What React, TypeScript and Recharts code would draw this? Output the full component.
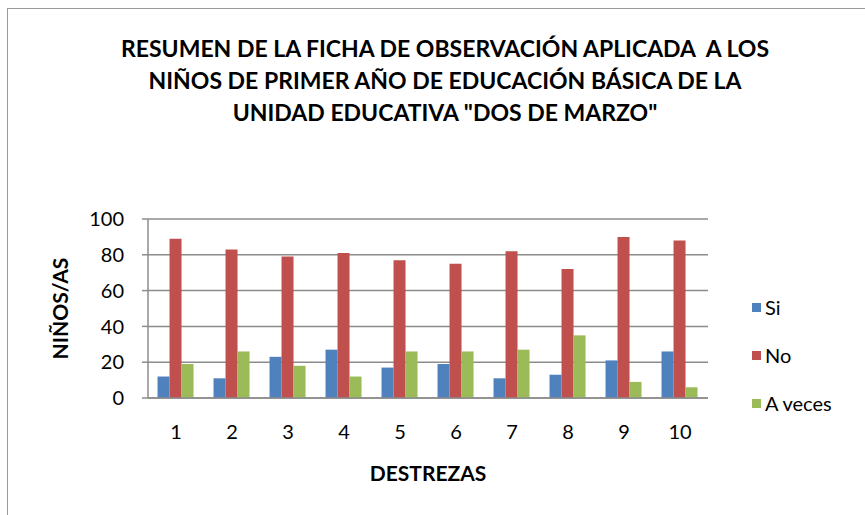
import React from "react";
import { BarChart, Bar, XAxis, YAxis, CartesianGrid } from "recharts";

const categories = ["1", "2", "3", "4", "5", "6", "7", "8", "9", "10"];
const si = [12, 11, 23, 27, 17, 19, 11, 13, 21, 26];
const no = [89, 83, 79, 81, 77, 75, 82, 72, 90, 88];
const aveces = [19, 26, 18, 12, 26, 26, 27, 35, 9, 6];
const yTicks = [0, 20, 40, 60, 80, 100];
const titleLines = [
  "RESUMEN DE LA FICHA DE OBSERVACIÓN APLICADA  A LOS",
  "NIÑOS DE PRIMER AÑO DE EDUCACIÓN BÁSICA DE LA",
  "UNIDAD EDUCATIVA \"DOS DE MARZO\"",
];
const seriesDefs = [
  { key: "si", name: "Si", color: "#4F81BD" },
  { key: "no", name: "No", color: "#C0504D" },
  { key: "aveces", name: "A veces", color: "#9BBB59" },
];

const data = categories.map((c, i) => ({ cat: c, si: si[i], no: no[i], aveces: aveces[i] }));

const FONT = "Lato, 'Open Sans', sans-serif";

export default function App() {
  return (
    <div style={{ position: "absolute", left: 0, top: 0, width: 865, height: 515, background: "#fff", overflow: "hidden" }}>
      <div style={{ position: "absolute", left: 7, top: 8, width: 900, height: 600, borderLeft: "1.5px solid #9a9a9a", borderTop: "1.5px solid #9a9a9a" }} />
      <div style={{ position: "absolute", left: 0, top: 32, width: 890, textAlign: "center", fontFamily: FONT, fontWeight: 700, fontSize: 23, lineHeight: "32px", color: "#000" }}>
        {titleLines.map((t, i) => (
          <div key={i} style={{ whiteSpace: "pre" }}>{t}</div>
        ))}
      </div>
      <div style={{ position: "absolute", left: 752, top: 283, fontFamily: FONT, fontSize: 20, color: "#000" }}>
        {seriesDefs.map((s) => (
          <div key={s.key} style={{ display: "flex", alignItems: "center", height: 48 }}>
            <span style={{ display: "inline-block", width: 9, height: 9, background: s.color, marginRight: 4 }} />
            <span>{s.name}</span>
          </div>
        ))}
      </div>
      <BarChart
        width={865}
        height={515}
        data={data}
        margin={{ top: 219, right: 157, bottom: 57, left: 0 }}
        barCategoryGap="17%"
        barGap={0}
        style={{ position: "absolute", left: 0, top: 0 }}
      >
        <CartesianGrid vertical={false} stroke="#8c8c8c" strokeWidth={1.5} />
        <XAxis
          dataKey="cat"
          tickLine={false}
          axisLine={{ stroke: "#8c8c8c", strokeWidth: 1.5 }}
          tick={{ fill: "#000", fontSize: 20, fontFamily: FONT }}
          tickMargin={21}
          height={60}
          label={{ value: "DESTREZAS", position: "insideBottom", offset: -23, fill: "#000", fontSize: 21, fontWeight: 700, fontFamily: FONT }}
        />
        <YAxis
          domain={[0, 100]}
          ticks={yTicks}
          width={148}
          tickLine={{ stroke: "#8c8c8c", strokeWidth: 1.5 }}
          tickSize={6}
          tickMargin={18}
          axisLine={{ stroke: "#8c8c8c", strokeWidth: 1.5 }}
          tick={{ fill: "#000", fontSize: 20, fontFamily: FONT }}
          label={{ value: "NIÑOS/AS", angle: -90, position: "insideLeft", offset: 61, fill: "#000", fontSize: 21, fontWeight: 700, fontFamily: FONT, style: { textAnchor: "middle" } }}
        />
        {seriesDefs.map((s) => (
          <Bar key={s.key} dataKey={s.key} name={s.name} fill={s.color} isAnimationActive={false} />
        ))}
      </BarChart>
    </div>
  );
}
